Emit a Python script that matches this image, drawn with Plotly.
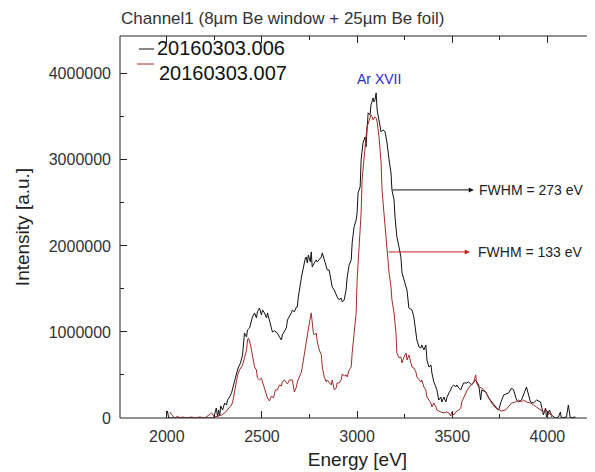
import plotly.graph_objects as go

# ---- data ----
energy_006 = [2003, 2010, 2120, 2246, 2260, 2267, 2272, 2278, 2283, 2293, 2304, 2314, 2319, 2330, 2340,
              2346, 2356, 2367, 2377, 2387, 2398, 2403, 2408, 2419, 2424, 2435, 2445, 2450, 2461, 2471,
              2476, 2487, 2497, 2503, 2513, 2524, 2529, 2539, 2550, 2555, 2565, 2576, 2581, 2592, 2602,
              2607, 2618, 2628, 2634, 2644, 2654, 2660, 2670, 2681, 2686, 2691, 2702, 2707, 2712, 2717,
              2728, 2733, 2738, 2744, 2754, 2759, 2764, 2775, 2785, 2791, 2801, 2812, 2817, 2827, 2838,
              2843, 2853, 2864, 2869, 2880, 2890, 2895, 2906, 2916, 2922, 2932, 2942, 2948, 2958, 2969,
              2974, 2984, 2995, 3000, 3005, 3016, 3021, 3031, 3042, 3047, 3052, 3058, 3068, 3073, 3084,
              3089, 3094, 3100, 3105, 3110, 3121, 3126, 3136, 3147, 3157, 3168, 3178, 3183, 3194, 3199,
              3204, 3209, 3220, 3230, 3236, 3246, 3262, 3272, 3288, 3298, 3309, 3314, 3325, 3335, 3340,
              3351, 3361, 3367, 3377, 3388, 3393, 3403, 3414, 3419, 3429, 3440, 3445, 3456, 3466, 3471,
              3482, 3492, 3497, 3508, 3518, 3524, 3534, 3545, 3550, 3560, 3576, 3586, 3602, 3623, 3639,
              3649, 3655, 3676, 3691, 3707, 3733, 3744, 3754, 3770, 3796, 3812, 3822, 3838, 3848, 3864,
              3885, 3890, 3901, 3911, 3927, 3943, 3964, 3979, 3990, 3995, 4011, 4021, 4042, 4058, 4068,
              4073, 4100, 4110, 4120, 4147]
intensity_006 = [81, 0, 0, 0, 116, 12, 93, 23, 140, 93, 174, 151, 209, 244, 291,
                 349, 430, 523, 593, 640, 733, 826, 988, 942, 1023, 1047, 1140, 1174, 1221, 1163,
                 1233, 1279, 1198, 1256, 1221, 1163, 1221, 1140, 1023, 1000, 1012, 988, 988, 942, 907,
                 965, 1000, 1047, 1140, 1174, 1221, 1256, 1233, 1291, 1291, 1407, 1605, 1628, 1686, 1756,
                 1860, 1872, 1802, 1895, 1814, 1930, 1756, 1802, 1837, 1814, 1837, 1872, 1919, 1837, 1779,
                 1721, 1721, 1581, 1523, 1488, 1430, 1407, 1372, 1395, 1349, 1372, 1488, 1640, 1779, 1837,
                 2035, 2221, 2302, 2384, 2616, 2686, 3000, 3198, 3267, 3151, 3349, 3547, 3523, 3640, 3721,
                 3674, 3698, 3779, 3581, 3500, 3384, 3326, 3349, 3326, 3198, 3000, 2849, 2651, 2535, 2337,
                 2221, 2105, 1988, 1872, 1686, 1605, 1488, 1279, 1256, 1174, 1023, 907, 826, 814, 849,
                 791, 849, 674, 593, 616, 523, 419, 360, 326, 209, 244, 186, 244, 186, 233,
                 291, 326, 360, 384, 360, 384, 349, 326, 360, 407, 407, 419, 384, 442, 384,
                 209, 326, 302, 233, 186, 116, 93, 174, 267, 291, 349, 326, 209, 186, 209,
                 326, 360, 267, 186, 174, 209, 186, 35, 116, 12, 93, 35, 0, 12, 70,
                 0, 12, 151, 0, 12]

energy_007 = [2016, 2026, 2042, 2058, 2068, 2084, 2105, 2131, 2147, 2173, 2199, 2225, 2236, 2251, 2278,
              2288, 2304, 2319, 2340, 2346, 2356, 2367, 2372, 2382, 2393, 2398, 2408, 2419, 2424, 2429,
              2440, 2445, 2450, 2461, 2471, 2476, 2487, 2497, 2503, 2513, 2524, 2529, 2539, 2550, 2560,
              2565, 2571, 2581, 2592, 2602, 2607, 2618, 2628, 2634, 2644, 2654, 2660, 2670, 2681, 2686,
              2696, 2707, 2712, 2723, 2733, 2738, 2749, 2759, 2764, 2770, 2775, 2785, 2791, 2801, 2812,
              2817, 2827, 2838, 2843, 2853, 2864, 2869, 2880, 2890, 2895, 2906, 2916, 2922, 2932, 2942,
              2948, 2958, 2969, 2974, 2984, 2995, 3000, 3011, 3021, 3026, 3037, 3047, 3052, 3063, 3073,
              3079, 3084, 3094, 3100, 3105, 3115, 3126, 3131, 3141, 3152, 3157, 3168, 3178, 3183, 3194,
              3204, 3209, 3220, 3230, 3236, 3246, 3257, 3262, 3272, 3283, 3288, 3298, 3309, 3314, 3325,
              3335, 3340, 3351, 3361, 3367, 3377, 3388, 3393, 3403, 3414, 3419, 3440, 3456, 3471, 3482,
              3492, 3497, 3508, 3518, 3534, 3545, 3550, 3560, 3576, 3597, 3602, 3613, 3623, 3628, 3639,
              3655, 3676, 3691, 3707, 3728, 3744, 3759, 3780, 3796, 3812, 3833, 3848, 3864, 3874, 3890,
              3911, 3927, 3943, 3964, 3979, 3995, 4005, 4016, 4021]
intensity_007 = [70, 35, 0, 23, 0, 12, 0, 12, 0, 12, 0, 47, 58, 12, 23,
                 35, 58, 93, 151, 186, 302, 407, 500, 558, 593, 616, 698, 791, 907, 930,
                 849, 791, 698, 593, 558, 465, 442, 465, 419, 349, 291, 233, 198, 256, 233,
                 267, 326, 326, 384, 372, 419, 442, 419, 395, 442, 442, 442, 302, 360, 419,
                 477, 535, 593, 756, 872, 988, 1105, 1221, 1105, 988, 965, 988, 884, 791, 733,
                 593, 477, 419, 442, 407, 384, 442, 326, 349, 407, 407, 442, 512, 488, 500,
                 477, 558, 593, 756, 942, 1221, 1605, 1988, 2384, 2767, 3081, 3267, 3384, 3465, 3523,
                 3500, 3465, 3500, 3488, 3442, 3267, 2965, 2651, 2384, 2105, 1919, 1686, 1523, 1372, 1221,
                 988, 756, 698, 709, 640, 709, 756, 674, 733, 640, 593, 581, 535, 477, 442,
                 419, 442, 360, 326, 244, 209, 174, 128, 174, 128, 93, 70, 58, 70, 58,
                 23, 70, 35, 70, 93, 116, 186, 233, 314, 384, 395, 419, 500, 407, 360,
                 349, 302, 244, 174, 116, 93, 81, 93, 128, 174, 186, 209, 186, 209, 186,
                 174, 151, 128, 93, 70, 93, 35, 70, 12]

series_names = ["20160303.006", "20160303.007"]
x_ticks = [2000, 2500, 3000, 3500, 4000]
y_ticks = [0, 1000000, 2000000, 3000000, 4000000]

# intensities above are in units of 1000 counts
y006 = [v * 1000 for v in intensity_006]
y007 = [v * 1000 for v in intensity_007]

BLACK = "#111111"
RED = "#a32a2a"
FONT = "Liberation Sans, Arial, sans-serif"

fig = go.Figure()
fig.add_trace(go.Scatter(x=energy_006, y=y006, mode="lines", name=series_names[0],
                         line=dict(color=BLACK, width=1), showlegend=False))
fig.add_trace(go.Scatter(x=energy_007, y=y007, mode="lines", name=series_names[1],
                         line=dict(color=RED, width=1), showlegend=False))

# the page has an 8px body margin, so the figure is 8px smaller than the window
OFF = 8
W, H = 595 - OFF, 472 - OFF
L, T, B = 120 - OFF, 36 - OFF, 54
PW, PH = W - L, H - T - B


def px(xp):  # xp: pixel position in the window
    return (xp - OFF - L) / PW


def py(yp):
    return (H - B - (yp - OFF)) / PH


axis_common = dict(
    ticks="inside", ticklen=7, tickwidth=1, tickcolor="#222", mirror="ticks",
    showline=False, showgrid=False, zeroline=False,
    tickfont=dict(family=FONT, size=16, color="#333"),
    title_font=dict(family=FONT, size=19, color="#222"),
)

fig.update_xaxes(range=[1754, 4250], tickvals=x_ticks, ticktext=[str(v) for v in x_ticks],
                 minor=dict(ticks="inside", ticklen=4, dtick=250, tick0=2000, tickcolor="#222"),
                 title_text="Energy [eV]", title_standoff=8, ticklabelstandoff=7, **axis_common)
fig.update_yaxes(range=[0, 4440000], tickvals=y_ticks, ticktext=[str(v) for v in y_ticks],
                 minor=dict(ticks="inside", ticklen=4, dtick=500000, tick0=0, tickcolor="#222"),
                 title_text="Intensity [a.u.]", title_standoff=14, ticklabelstandoff=8, **axis_common)

shapes = [
    dict(type="line", xref="paper", yref="paper", x0=0, x1=0, y0=0, y1=1, line=dict(color="#222", width=1)),
    dict(type="line", xref="paper", yref="paper", x0=0, x1=1, y0=0, y1=0, line=dict(color="#222", width=1)),
    dict(type="line", xref="paper", yref="paper", x0=0, x1=1, y0=1, y1=1, line=dict(color="#222", width=1)),
    # legend line samples
    dict(type="line", xref="paper", yref="paper", x0=px(139), x1=px(154), y0=py(49), y1=py(49),
         line=dict(color=BLACK, width=1)),
    dict(type="line", xref="paper", yref="paper", x0=px(137), x1=px(154), y0=py(64), y1=py(64),
         line=dict(color=RED, width=1)),
]

annotations = [
    dict(xref="paper", yref="paper", x=px(155), y=py(48), text=series_names[0], showarrow=False,
         xanchor="left", yanchor="middle", font=dict(family=FONT, size=20, color="#111")),
    dict(xref="paper", yref="paper", x=px(157), y=py(73), text=series_names[1], showarrow=False,
         xanchor="left", yanchor="middle", font=dict(family=FONT, size=20, color="#111")),
    dict(x=3115, y=3940000, text="Ar XVII", showarrow=False, xanchor="center", yanchor="middle",
         font=dict(family=FONT, size=14, color="#2a2acc")),
    dict(x=3613, y=2651000, ax=3178, ay=2651000, axref="x", ayref="y", text="", showarrow=True,
         arrowhead=2, arrowsize=1, arrowwidth=1, arrowcolor=BLACK, standoff=0, startstandoff=0),
    dict(x=3628, y=2651000, text="FWHM = 273 eV", showarrow=False, xanchor="left", yanchor="middle",
         font=dict(family=FONT, size=14, color="#222")),
    dict(x=3592, y=1930000, ax=3157, ay=1930000, axref="x", ayref="y", text="", showarrow=True,
         arrowhead=2, arrowsize=1, arrowwidth=1, arrowcolor="#c02020", standoff=0, startstandoff=0),
    dict(x=3623, y=1930000, text="FWHM = 133 eV", showarrow=False, xanchor="left", yanchor="middle",
         font=dict(family=FONT, size=14, color="#222")),
]

fig.update_layout(
    width=W, height=H,
    margin=dict(l=L, r=0, t=T, b=B, autoexpand=False),
    paper_bgcolor="white", plot_bgcolor="white",
    title=dict(text="Channel1 (8µm Be window + 25µm Be foil)", x=px(121), xref="paper", xanchor="left",
               y=1 - (18 - OFF) / H, yref="container", yanchor="middle",
               font=dict(family=FONT, size=17, color="#333")),
    shapes=shapes, annotations=annotations, showlegend=False,
)

fig.write_html("out.html")
